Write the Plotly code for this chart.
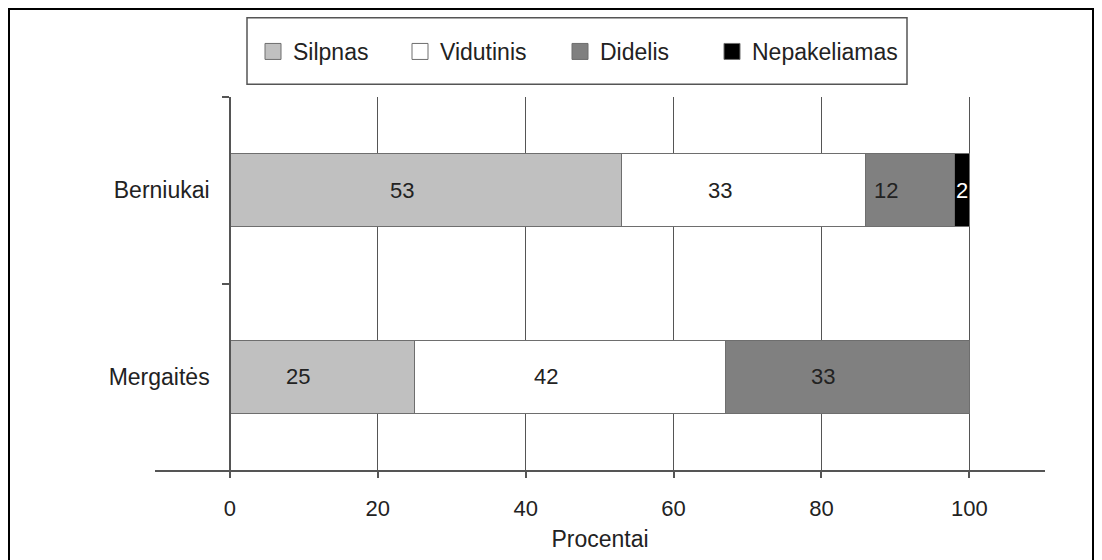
import plotly.graph_objects as go

# Survey shares (%) by group and intensity level
groups = ["Berniukai", "Mergaitės"]
levels = ["Silpnas", "Vidutinis", "Didelis", "Nepakeliamas"]
silpnas = [53, 25]
vidutinis = [33, 42]
didelis = [12, 33]
nepakeliamas = [2, 0]
x_ticks = [0, 20, 40, 60, 80, 100]

series = [silpnas, vidutinis, didelis, nepakeliamas]
fills = ["#c0c0c0", "#ffffff", "#808080", "#000000"]
label_colors = ["#222222", "#222222", "#222222", "#ffffff"]

W, H = 1102, 560
L, R, T, B = 155, 57, 97, 86
X_MIN, X_MAX = -10.14, 110.24
FONT = dict(family="Liberation Sans, Arial, sans-serif", size=23, color="#222222")
AXIS = "#555555"

# horizontal pixel position of each legend swatch centre
swatch_px = [272, 419, 579, 731]
legend_ids = ["legend", "legend2", "legend3", "legend4"]

fig = go.Figure()

for name, vals, col, lid in zip(levels, series, fills, legend_ids):
    fig.add_trace(go.Bar(
        y=groups, x=vals, name=name, orientation="h", width=0.39,
        marker=dict(color=col, line=dict(color="#6e6e6e", width=1)),
        showlegend=False, hoverinfo="x+y",
    ))
    # square legend swatch
    fig.add_trace(go.Scatter(
        x=[None], y=[None], mode="markers", name=name, legend=lid,
        marker=dict(symbol="square", size=16, color=col,
                    line=dict(color="#6e6e6e", width=1)),
    ))

# value labels placed at each segment's middle
annotations = []
for gi, g in enumerate(groups):
    start = 0
    for si, vals in enumerate(series):
        v = vals[gi]
        if v > 0:
            narrow = v < 5
            annotations.append(dict(
                x=start + v / 2, y=g, xref="x", yref="y", text=str(v),
                showarrow=False, xshift=0 if narrow else -24,
                font=dict(FONT, size=22, color=label_colors[si]),
            ))
        start += v

def px_x(p):
    return (p - L) / (W - L - R)

def px_y(p):
    return (H - B - p) / (H - T - B)

shapes = [
    # outer frame
    dict(type="rect", xref="paper", yref="paper",
         x0=px_x(9), x1=px_x(1093), y0=px_y(575), y1=px_y(8),
         line=dict(color="#000000", width=2), layer="below"),
    # legend box
    dict(type="rect", xref="paper", yref="paper",
         x0=px_x(247), x1=px_x(907), y0=px_y(84), y1=px_y(17),
         line=dict(color=AXIS, width=1.5), layer="below"),
]

legend_layouts = {}
for lid, cx in zip(legend_ids, swatch_px):
    legend_layouts[lid] = dict(
        orientation="h", x=px_x(cx - 19), y=px_y(51),
        xanchor="left", yanchor="middle",
        bgcolor="rgba(0,0,0,0)", borderwidth=0, font=FONT,
    )

fig.update_layout(
    width=W, height=H,
    margin=dict(l=L, r=R, t=T, b=B),
    paper_bgcolor="white", plot_bgcolor="white",
    barmode="stack", bargap=0.6,
    font=FONT,
    showlegend=True,
    annotations=annotations,
    shapes=shapes,
    xaxis=dict(
        range=[X_MIN, X_MAX], tickvals=x_ticks, ticktext=[str(t) for t in x_ticks],
        showgrid=True, gridcolor=AXIS, gridwidth=1, zeroline=False,
        showline=True, linecolor=AXIS, linewidth=1.5,
        ticks="outside", ticklen=6, tickcolor=AXIS, tickwidth=1.5,
        ticklabelstandoff=12,
        title=dict(text="Procentai", standoff=11, font=FONT),
        tickfont=dict(FONT, size=22), fixedrange=True,
    ),
    yaxis=dict(
        type="category", categoryorder="array", categoryarray=groups,
        range=[1.5, -0.5], anchor="free", position=px_x(230),
        showgrid=False, zeroline=False,
        showline=True, linecolor=AXIS, linewidth=1.5,
        ticks="outside", tickson="boundaries", ticklen=7,
        tickcolor=AXIS, tickwidth=1.5, ticklabelstandoff=15,
        tickfont=FONT, fixedrange=True,
    ),
    **legend_layouts,
)

fig.write_html("out.html")
